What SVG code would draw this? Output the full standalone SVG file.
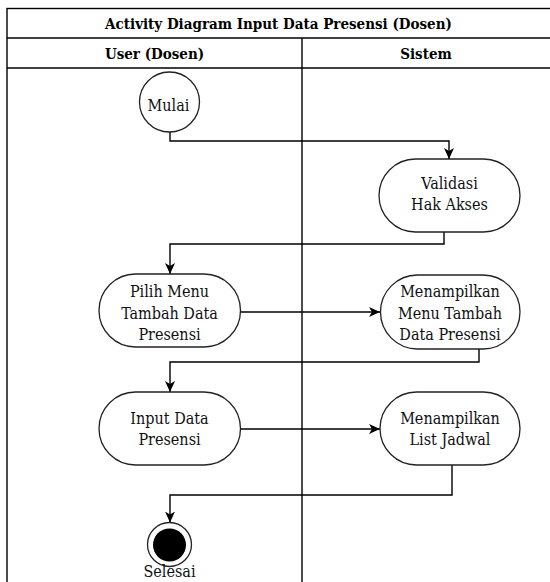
<svg xmlns="http://www.w3.org/2000/svg" width="550" height="582" viewBox="0 0 550 582">
  <style>
    .frame { fill: none; stroke: #000; stroke-width: 1.4; }
    .node { fill: #fff; stroke: #222; stroke-width: 1.3; }
    .conn { fill: none; stroke: #000; stroke-width: 1.4; }
    text { font-family: 'DejaVu Serif Condensed', 'DejaVu Serif', serif; font-stretch: condensed; text-anchor: middle; }
    .hdr { font-size: 15px; font-weight: bold; fill: #000; }
    .lbl { font-size: 16px; fill: #111; }
  </style>
  <defs>
    <marker id="arrow" markerUnits="userSpaceOnUse" markerWidth="12" markerHeight="12" viewBox="0 0 12 10" refX="11" refY="5" orient="auto">
      <path d="M0,0 L11,5 L0,10 L3,5 Z" fill="#000"/>
    </marker>
  </defs>
  <rect x="0" y="0" width="550" height="582" fill="#fff"/>

  <g id="pool">
    <rect class="frame" x="7" y="8.5" width="546" height="580"/>
    <line class="frame" x1="7" y1="38" x2="553" y2="38"/>
    <line class="frame" x1="7" y1="68" x2="553" y2="68"/>
    <line class="frame" x1="302" y1="38" x2="302" y2="590"/>
    <text class="hdr" x="278.5" y="29">Activity Diagram Input Data Presensi (Dosen)</text>
    <text class="hdr" x="154.5" y="59">User (Dosen)</text>
    <text class="hdr" x="426" y="59">Sistem</text>
  </g>

  <g id="connectors">
    <path class="conn" d="M170,132 V141 H449 V159" marker-end="url(#arrow)"/>
    <path class="conn" d="M444,232 V244 H170 V274" marker-end="url(#arrow)"/>
    <path class="conn" d="M241,312 H380" marker-end="url(#arrow)"/>
    <path class="conn" d="M479,349 V362 H170 V392" marker-end="url(#arrow)"/>
    <path class="conn" d="M241,429 H380" marker-end="url(#arrow)"/>
    <path class="conn" d="M452,465 V495 H170 V522.5" marker-end="url(#arrow)"/>
  </g>

  <g id="mulai">
    <circle class="node" cx="169.5" cy="102" r="30"/>
    <text class="lbl" x="168.5" y="111">Mulai</text>
  </g>

  <g id="validasi">
    <rect class="node" x="379" y="159" width="141" height="73" rx="36.5" ry="36.5"/>
    <text class="lbl" x="449.5" y="188.5">Validasi</text>
    <text class="lbl" x="449.5" y="209.5">Hak Akses</text>
  </g>

  <g id="pilih-menu">
    <rect class="node" x="99" y="274" width="141.5" height="73" rx="36.5" ry="36.5"/>
    <text class="lbl" x="169.5" y="297">Pilih Menu</text>
    <text class="lbl" x="169.5" y="318.5">Tambah Data</text>
    <text class="lbl" x="169.5" y="339.5">Presensi</text>
  </g>

  <g id="menampilkan-menu">
    <rect class="node" x="380.5" y="275" width="139.5" height="74" rx="37" ry="37"/>
    <text class="lbl" x="450" y="297">Menampilkan</text>
    <text class="lbl" x="450" y="318.5">Menu Tambah</text>
    <text class="lbl" x="450" y="339.5">Data Presensi</text>
  </g>

  <g id="input-data">
    <rect class="node" x="99" y="392" width="141.5" height="73" rx="36.5" ry="36.5"/>
    <text class="lbl" x="169.5" y="424">Input Data</text>
    <text class="lbl" x="169.5" y="445">Presensi</text>
  </g>

  <g id="menampilkan-list">
    <rect class="node" x="380" y="392" width="140" height="73" rx="36.5" ry="36.5"/>
    <text class="lbl" x="450" y="423.5">Menampilkan</text>
    <text class="lbl" x="450" y="445">List Jadwal</text>
  </g>

  <g id="selesai">
    <circle class="node" cx="169.5" cy="544.5" r="22"/>
    <circle cx="169.5" cy="545" r="16.5" fill="#000"/>
    <text class="lbl" x="169.5" y="577">Selesai</text>
  </g>
</svg>
